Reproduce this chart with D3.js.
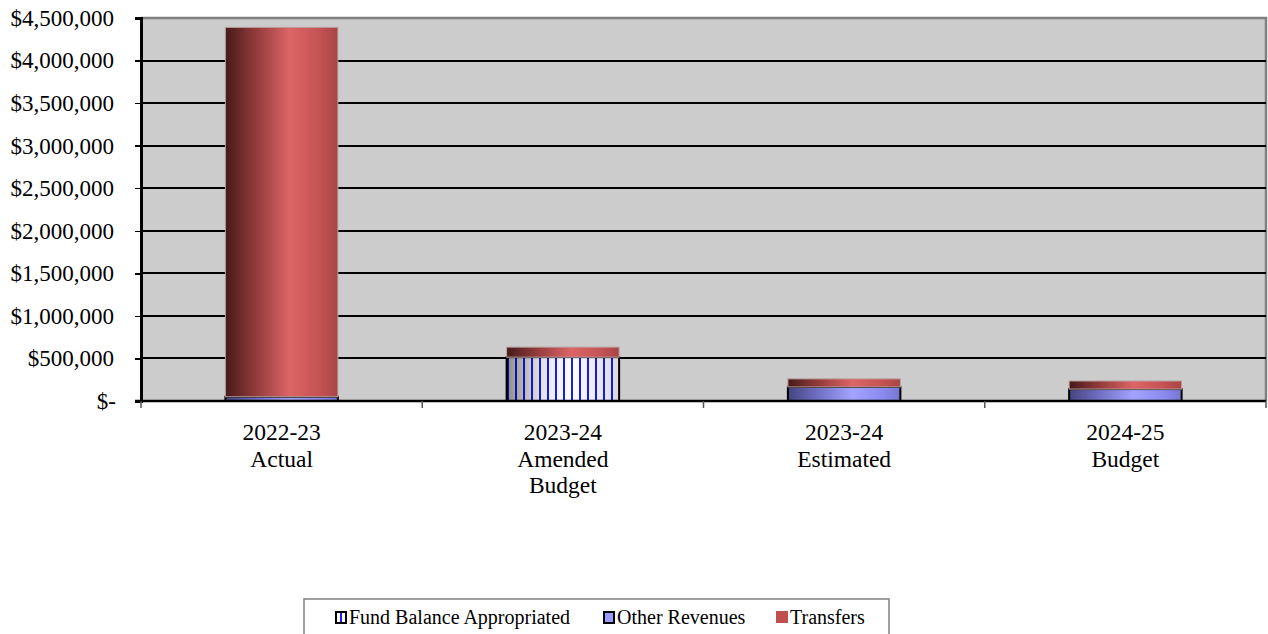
<html>
<head>
<script src="https://d3js.org/d3.v7.min.js"></script>
<style>
  body { margin: 0; background: #fff; }
  .axis path, .axis line { shape-rendering: crispEdges; }
</style>
</head>
<body>
<script>
// chart values
var categories = ["2022-23\nActual", "2023-24\nAmended\nBudget", "2023-24\nEstimated", "2024-25\nBudget"];
var fundBalance = [0, 515000, 0, 0];
var otherRevenues = [50000, 0, 165000, 140000];
var transfers = [4340000, 118000, 95000, 95000];
var yTicks = [0, 500000, 1000000, 1500000, 2000000, 2500000, 3000000, 3500000, 4000000, 4500000];
var seriesNames = ["Fund Balance Appropriated", "Other Revenues", "Transfers"];

var w = 1268, h = 634;
var pLeft = 141, pRight = 1266, pTop = 18, pBottom = 401;
var serif = "Liberation Serif";

var svg = d3.select("body").append("svg").attr("width", w).attr("height", h);
var defs = svg.append("defs");

function hGrad(id, stops) {
  var g = defs.append("linearGradient").attr("id", id)
    .attr("x1", "0%").attr("x2", "100%").attr("y1", "0%").attr("y2", "0%");
  stops.forEach(function (s) {
    g.append("stop").attr("offset", s[0]).attr("stop-color", s[1]).attr("stop-opacity", s[2] == null ? 1 : s[2]);
  });
}
hGrad("redGrad", [["0%", "#461a1a"], ["25%", "#8e3838"], ["57%", "#dc6565"], ["85%", "#c35252"], ["100%", "#a84444"]]);
hGrad("blueGrad", [["0%", "#44447e"], ["25%", "#6c6cc0"], ["57%", "#a3a3ff"], ["85%", "#8a8aee"], ["100%", "#7575d0"]]);
hGrad("shade", [["0%", "#000", 0.45], ["30%", "#000", 0.12], ["57%", "#000", 0], ["100%", "#000", 0.15]]);

var pat = defs.append("pattern").attr("id", "vlines").attr("patternUnits", "userSpaceOnUse")
  .attr("width", 8).attr("height", 8);
pat.append("rect").attr("width", 8).attr("height", 8).attr("fill", "#fff");
pat.append("rect").attr("x", 3).attr("width", 2).attr("height", 8).attr("fill", "#1a1aff");

var x = d3.scaleBand().domain(categories).range([pLeft, pRight]).paddingInner(0.6).paddingOuter(0.3);
var y = d3.scaleLinear().domain([0, 4500000]).range([pBottom, pTop]);

// plot area
svg.append("rect").attr("x", pLeft).attr("y", pTop).attr("width", pRight - pLeft).attr("height", pBottom - pTop)
  .attr("fill", "#cccccc");
svg.append("path").attr("d", "M" + pLeft + "," + pTop + "H" + pRight + "V" + pBottom)
  .attr("fill", "none").attr("stroke", "#808080").attr("stroke-width", 2.5);

// gridlines
svg.append("g").selectAll("line").data(yTicks.slice(1, -1)).enter().append("line")
  .attr("x1", pLeft).attr("x2", pRight)
  .attr("y1", function (d) { return Math.round(y(d)); }).attr("y2", function (d) { return Math.round(y(d)); })
  .attr("stroke", "#000").attr("stroke-width", 2);

// stacked bars
var rows = categories.map(function (c, i) {
  return { cat: c, fb: fundBalance[i], other: otherRevenues[i], tr: transfers[i] };
});
var stack = d3.stack().keys(["fb", "other", "tr"])(rows);
var fills = { fb: "url(#vlines)", other: "url(#blueGrad)", tr: "url(#redGrad)" };

stack.forEach(function (layer) {
  var g = svg.append("g");
  var segs = layer.filter(function (d) { return d[1] > d[0]; });
  g.selectAll("rect.seg").data(segs).enter().append("rect")
    .attr("class", "seg")
    .attr("x", function (d) { return x(d.data.cat); })
    .attr("width", x.bandwidth())
    .attr("y", function (d) { return y(d[1]); })
    .attr("height", function (d) { return y(d[0]) - y(d[1]); })
    .attr("fill", fills[layer.key])
    .attr("stroke", layer.key == "tr" ? "#b9a0a0" : "#000")
    .attr("stroke-width", layer.key == "tr" ? 1 : 2);
  if (layer.key == "fb") {
    g.selectAll("rect.sh").data(segs).enter().append("rect")
      .attr("class", "sh")
      .attr("x", function (d) { return x(d.data.cat); })
      .attr("width", x.bandwidth())
      .attr("y", function (d) { return y(d[1]); })
      .attr("height", function (d) { return y(d[0]) - y(d[1]); })
      .attr("fill", "url(#shade)");
  }
});

// y axis
var yAxis = d3.axisLeft(y).tickValues(yTicks).tickSize(6).tickPadding(21)
  .tickFormat(function (d) { return d == 0 ? "$-" : "$" + d3.format(",")(d); });
var ya = svg.append("g").attr("class", "axis").attr("transform", "translate(" + pLeft + ",0)").call(yAxis);
ya.select(".domain").attr("stroke", "#000").attr("stroke-width", 2.5);
ya.selectAll(".tick line").attr("stroke", "#000").attr("stroke-width", 1.5);
ya.selectAll("text")
  .style("font-family", serif).style("font-size", "23px").attr("fill", "#000");
ya.selectAll(".tick").filter(function (d) { return d == 0; }).select("text").attr("x", -25);

// x axis baseline and ticks at category boundaries
svg.append("line").attr("x1", pLeft - 6).attr("x2", pRight).attr("y1", pBottom).attr("y2", pBottom)
  .attr("stroke", "#000").attr("stroke-width", 2.5);
var step = x.step();
var bounds = categories.map(function (c) { return x(c) - (step - x.bandwidth()) / 2; });
bounds.push(pRight);
svg.append("g").selectAll("line").data(bounds).enter().append("line")
  .attr("x1", function (d) { return d; }).attr("x2", function (d) { return d; })
  .attr("y1", pBottom).attr("y2", pBottom + 7)
  .attr("stroke", "#555").attr("stroke-width", 1.5);

var xl = svg.append("g").selectAll("text").data(categories).enter().append("text")
  .attr("text-anchor", "middle")
  .attr("x", function (d) { return x(d) + x.bandwidth() / 2; })
  .attr("y", 440)
  .style("font-family", serif)
  .style("font-size", "23.5px");
xl.each(function (d) {
  var t = d3.select(this);
  d.split("\n").forEach(function (line, i) {
    t.append("tspan").attr("x", t.attr("x")).attr("dy", i == 0 ? 0 : 26.5).text(line);
  });
});

// legend
var lg = svg.append("g");
lg.append("rect").attr("x", 304).attr("y", 599).attr("width", 585).attr("height", 40)
  .attr("fill", "#fff").attr("stroke", "#808080").attr("stroke-width", 1.5);
var legendX = [336, 604, 777];
seriesNames.forEach(function (name, i) {
  var sx = legendX[i];
  if (i == 0) {
    lg.append("rect").attr("x", sx).attr("y", 612).attr("width", 10).attr("height", 11)
      .attr("fill", "#fff").attr("stroke", "#000").attr("stroke-width", 2);
    lg.append("rect").attr("x", sx + 4).attr("y", 613).attr("width", 2).attr("height", 9).attr("fill", "#1a1aff");
  } else if (i == 1) {
    lg.append("rect").attr("x", sx).attr("y", 612).attr("width", 10).attr("height", 11)
      .attr("fill", "#9999ff").attr("stroke", "#000").attr("stroke-width", 2);
  } else {
    lg.append("rect").attr("x", sx - 1).attr("y", 611).attr("width", 12).attr("height", 12)
      .attr("fill", "#c0504d");
  }
  lg.append("text").attr("x", sx + 13).attr("y", 624)
    .style("font-family", serif).style("font-size", "20px").text(name);
});
</script>
</body>
</html>
